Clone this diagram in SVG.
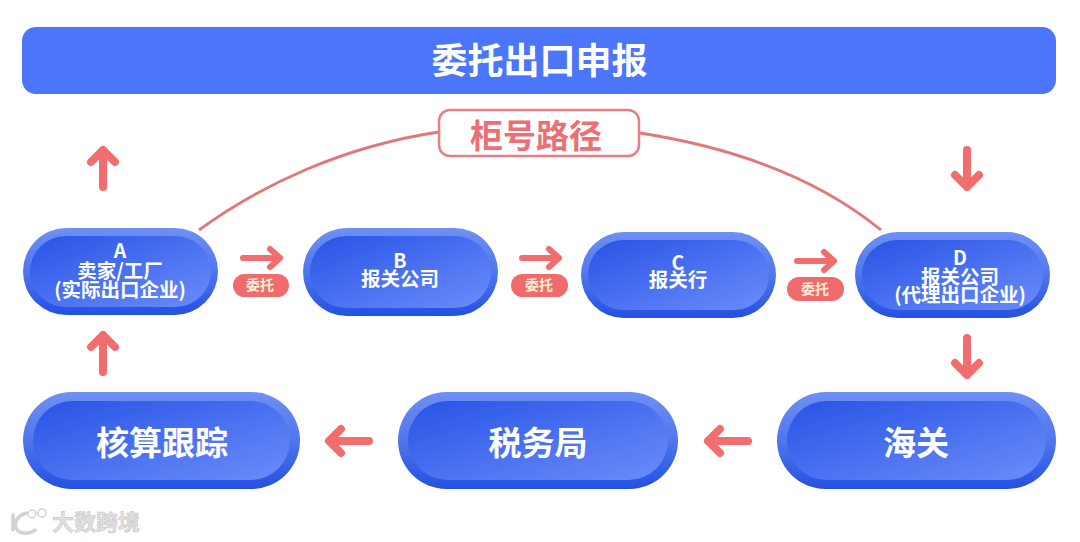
<svg xmlns="http://www.w3.org/2000/svg" width="1080" height="542" viewBox="0 0 1080 542">
<style>
text{font-family:"Noto Sans CJK SC","Noto Sans",sans-serif;font-weight:700;text-anchor:middle}
.w{fill:#fff}
.big{font-size:33px}
.mid{font-size:19.5px}
.tag{font-size:14px;fill:#ffeeda}
.arrow{fill:none;stroke:#f26d6d;stroke-width:8;stroke-linecap:round;stroke-linejoin:round}
.thin{stroke-width:6}
.path{fill:none;stroke:#e27779;stroke-width:2.8}
.o{fill:url(#outer)}
.i{fill:url(#inner)}
.pill{fill:#f06c6c}
</style>
<defs>
<linearGradient id="outer" x1="0" y1="0" x2="0" y2="1"><stop offset="0" stop-color="#6f90f3"/><stop offset=".5" stop-color="#4f76ec"/><stop offset="1" stop-color="#2450e2"/></linearGradient>
<linearGradient id="inner" x1="0" y1="0" x2="1" y2="1"><stop offset="0" stop-color="#2853e6"/><stop offset="1" stop-color="#6a8dfa"/></linearGradient>
</defs>
<rect width="1080" height="542" fill="#fff"/>
<g id="title"><rect x="22" y="27" width="1034" height="67" rx="14" fill="#4b75fb"/><text class="w" x="539.500" y="74" font-size="36">委托出口申报</text></g>
<g id="connectors">
<path class="path" d="M199 230C262 184 345 146 439 132"/>
<path class="path" d="M640 133C730 147 815 176 881 230"/>
<path class="arrow" d="M103 187V150M91 162L103 150L115 162"/>
<path class="arrow" d="M967 150V187M955 175L967 187L979 175"/>
<path class="arrow" d="M967 338V375M955 363L967 375L979 363"/>
<path class="arrow" d="M103 372V335M91 347L103 335L115 347"/>
<path class="arrow thin" d="M243 258H280M270 249L280 258L270 267"/>
<path class="arrow thin" d="M522 258H559M549 249L559 258L549 267"/>
<path class="arrow thin" d="M797 261H834M824 252L834 261L824 270"/>
<path class="arrow" d="M369 441H329M341 429L329 441L341 453"/>
<path class="arrow" d="M748 441H708M720 429L708 441L720 453"/>
</g>
<g id="route"><rect x="439" y="110" width="200" height="46" rx="11" fill="#fff" stroke="#e57f84" stroke-width="2.500"/><text x="536" y="148" fill="#ec6f75" class="big">柜号路径</text></g>
<g id="tag1"><rect class="pill" x="233" y="274" width="56" height="23" rx="11.500"/><text class="tag" x="260" y="290">委托</text></g>
<g id="tag2"><rect class="pill" x="511" y="274" width="57" height="23" rx="11.500"/><text class="tag" x="539" y="290">委托</text></g>
<g id="tag3"><rect class="pill" x="787" y="277" width="57" height="24" rx="12"/><text class="tag" x="815" y="294">委托</text></g>
<g id="nodeA"><rect class="o" x="23" y="228" width="195" height="87" rx="43.500"/><rect class="i" x="30" y="236" width="181" height="71" rx="35.500"/>
<text class="w mid" x="120" y="258"><tspan x="120">A</tspan><tspan x="120" dy="20">卖家/工厂</tspan><tspan x="120" dy="19">(实际出口企业)</tspan></text></g>
<g id="nodeB"><rect class="o" x="303" y="228" width="195" height="88" rx="44"/><rect class="i" x="310" y="236" width="181" height="72" rx="36"/>
<text class="w mid" x="400" y="268"><tspan x="400">B</tspan><tspan x="400" dy="18">报关公司</tspan></text></g>
<g id="nodeC"><rect class="o" x="581" y="232" width="195" height="86" rx="43"/><rect class="i" x="588" y="240" width="181" height="70" rx="35"/>
<text class="w mid" x="678" y="270"><tspan x="678">C</tspan><tspan x="678" dy="17">报关行</tspan></text></g>
<g id="nodeD"><rect class="o" x="855" y="232" width="195" height="86" rx="43"/><rect class="i" x="862" y="240" width="181" height="70" rx="35"/>
<text class="w mid" x="960" y="265"><tspan x="960">D</tspan><tspan x="960" dy="19">报关公司</tspan><tspan x="960" dy="18">(代理出口企业)</tspan></text></g>
<g id="nodeE"><rect class="o" x="23" y="392" width="277" height="97" rx="48.500"/><rect class="i" x="33" y="401" width="257" height="79" rx="39.500"/><text class="w big" x="162" y="455">核算跟踪</text></g>
<g id="nodeF"><rect class="o" x="398" y="392" width="280" height="97" rx="48.500"/><rect class="i" x="408" y="401" width="260" height="79" rx="39.500"/><text class="w big" x="538" y="455">税务局</text></g>
<g id="nodeG"><rect class="o" x="777" y="392" width="279" height="97" rx="48.500"/><rect class="i" x="787" y="401" width="259" height="79" rx="39.500"/><text class="w big" x="916" y="455">海关</text></g>
<g id="watermark">
<path d="M13 515V530M26 513C15 517 13 525 18 531C22 534 30 534 35 530" fill="none" stroke="#d2d2d2" stroke-width="3.500" stroke-linecap="round"/>
<circle cx="32" cy="514" r="4" fill="#fff" stroke="#d2d2d2" stroke-width="1.500"/><circle cx="42" cy="513" r="4" fill="#fff" stroke="#d2d2d2" stroke-width="1.500"/>
<text x="96" y="530" font-size="22" fill="#e0e0e0" stroke="#c4c4c4" stroke-width=".5">大数跨境</text></g>
</svg>
